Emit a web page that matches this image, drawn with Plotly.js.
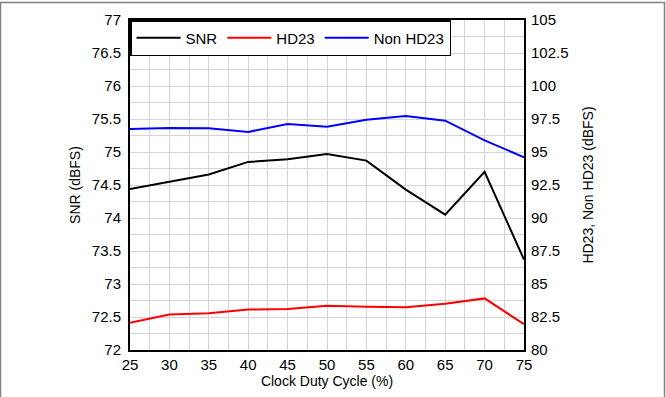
<!DOCTYPE html>
<html>
<head>
<meta charset="utf-8">
<script src="https://cdn.plot.ly/plotly-3.0.1.min.js"></script>
<style>html,body{margin:0;padding:0;background:#fff;}#chart{width:666px;height:397px;}</style>
</head>
<body>
<div id="chart"></div>
<script>
const dutyCycle = [25, 30, 35, 40, 45, 50, 55, 60, 65, 70, 75];
const snr = [74.44, 74.55, 74.66, 74.85, 74.89, 74.97, 74.87, 74.43, 74.05, 74.70, 73.37];
const hd23 = [82.07, 82.68, 82.78, 83.06, 83.11, 83.36, 83.28, 83.23, 83.51, 83.91, 81.95];
const nonHd23 = [96.74, 96.82, 96.79, 96.52, 97.12, 96.92, 97.45, 97.73, 97.37, 95.88, 94.6];
const xTicks = [25, 30, 35, 40, 45, 50, 55, 60, 65, 70, 75];
const yLeftTicks = [72, 72.5, 73, 73.5, 74, 74.5, 75, 75.5, 76, 76.5, 77];
const yRightTicks = [80, 82.5, 85, 87.5, 90, 92.5, 95, 97.5, 100, 102.5, 105];

const font = {family: 'Liberation Sans, Arial, sans-serif', size: 14, color: '#000'};

const traces = [
  {x: dutyCycle, y: snr, name: 'SNR', type: 'scatter', mode: 'lines', line: {color: '#000000', width: 2}, yaxis: 'y'},
  {x: dutyCycle, y: hd23, name: 'HD23', type: 'scatter', mode: 'lines', line: {color: '#ff0000', width: 2}, yaxis: 'y2'},
  {x: dutyCycle, y: nonHd23, name: 'Non HD23', type: 'scatter', mode: 'lines', line: {color: '#0000ff', width: 2}, yaxis: 'y2'}
];

const layout = {
  width: 666, height: 397,
  margin: {l: 130, r: 142, t: 20, b: 47},
  paper_bgcolor: '#fff', plot_bgcolor: '#fff',
  font: font,
  showlegend: true,
  legend: {
    orientation: 'h', x: 0, y: 1, xanchor: 'left', yanchor: 'top',
    bgcolor: '#fff', bordercolor: '#000', borderwidth: 1.5,
    font: {family: font.family, size: 15, color: '#000'},
    itemwidth: 44,
    traceorder: 'normal'
  },
  xaxis: {
    range: [25, 75], tickmode: 'array', tickvals: xTicks, ticktext: xTicks.map(String),
    showgrid: true, gridcolor: '#d4d4d4', gridwidth: 1,
    minor: {dtick: 2.5, showgrid: true, gridcolor: '#d4d4d4', gridwidth: 1},
    showline: true, linecolor: '#000', linewidth: 2, mirror: true,
    ticks: '', zeroline: false, tickfont: {family: font.family, size: 15, color: '#000'},
    title: {text: 'Clock Duty Cycle (%)', font: {family: font.family, size: 14, color: '#000'}, standoff: 3},
    automargin: false
  },
  yaxis: {
    range: [72, 77], tickmode: 'array', tickvals: yLeftTicks, ticktext: yLeftTicks.map(String),
    showgrid: true, gridcolor: '#d4d4d4', gridwidth: 1,
    minor: {dtick: 0.25, showgrid: true, gridcolor: '#d4d4d4', gridwidth: 1},
    showline: true, linecolor: '#000', linewidth: 2, mirror: true,
    ticks: '', zeroline: false, tickfont: {family: font.family, size: 15, color: '#000'},
    ticklabelstandoff: 4,
    title: {text: 'SNR (dBFS)', font: {family: font.family, size: 14, color: '#000'}, standoff: 8},
    automargin: false
  },
  yaxis2: {
    overlaying: 'y', side: 'right',
    range: [80, 105], tickmode: 'array', tickvals: yRightTicks, ticktext: yRightTicks.map(String),
    showgrid: false, showline: false, ticks: '', zeroline: false,
    tickfont: {family: font.family, size: 15, color: '#000'},
    ticklabelstandoff: 6,
    title: {text: 'HD23, Non HD23 (dBFS)', font: {family: font.family, size: 14, color: '#000'}, standoff: 15},
    automargin: false
  },
  shapes: [
    {type: 'rect', xref: 'paper', yref: 'paper',
     x0: (0.5 - 130) / 394, x1: (664.5 - 130) / 394,
     y0: (350 - 420) / 330, y1: (350 - 2.5) / 330,
     line: {color: '#808080', width: 1.5}, fillcolor: 'rgba(0,0,0,0)', layer: 'above'}
  ]
};

Plotly.newPlot('chart', traces, layout, {displayModeBar: false, staticPlot: true});
</script>
</body>
</html>
